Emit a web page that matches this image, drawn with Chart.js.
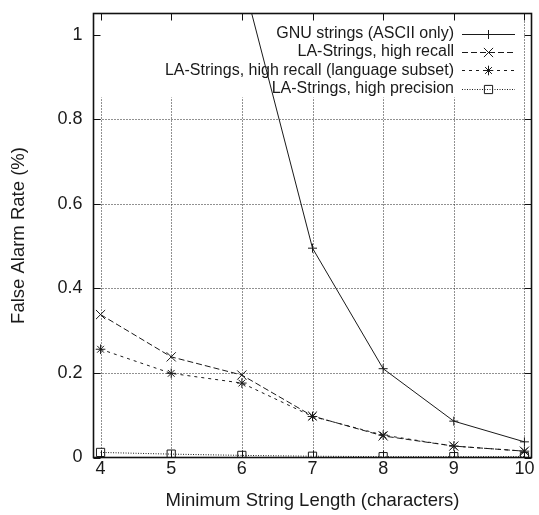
<!DOCTYPE html>
<html><head><meta charset="utf-8">
<script src="https://cdn.jsdelivr.net/npm/chart.js@4/dist/chart.umd.min.js"></script>
<style>html,body{margin:0;padding:0;background:#fff}#wrap{width:539px;height:515px}</style>
</head><body><div id="wrap"><canvas id="c" width="539" height="515"></canvas></div>
<script>
// ---- data ----
const minStringLength = [4, 5, 6, 7, 8, 9, 10];
const gnuStringsAscii = [null, null, 1.14, 0.495, 0.21, 0.086, 0.037];
const laHighRecall = [0.338, 0.238, 0.195, 0.098, 0.051, 0.027, 0.015];
const laHighRecallSubset = [0.256, 0.199, 0.176, 0.097, 0.053, 0.027, 0.015];
const laHighPrecision = [0.012, 0.008, 0.005, 0.003, 0.002, 0.002, 0.002];
const seriesLabels = [
  'GNU strings (ASCII only)',
  'LA-Strings, high recall',
  'LA-Strings, high recall (language subset)',
  'LA-Strings, high precision'
];
const xTickValues = [4, 5, 6, 7, 8, 9, 10];
const yTickValues = [0, 0.2, 0.4, 0.6, 0.8, 1];
const xAxisTitle = 'Minimum String Length (characters)';
const yAxisTitle = 'False Alarm Rate (%)';
const keyBottomValue = 0.852; // grid lines stop below the key area

const FONT = '"Liberation Sans", Arial, Helvetica, sans-serif';
const INK = '#1a1a1a';

function pts(ys) { return minStringLength.map((x, i) => ({x: x, y: ys[i]})); }

const styles = [
  {dash: [], pointStyle: 'cross', radius: 4.5},
  {dash: [6, 3], pointStyle: 'crossRot', radius: 6.5},
  {dash: [3, 4], pointStyle: 'star', radius: 4.8},
  {dash: [1, 1.5], pointStyle: 'rect', radius: 5.8}
];
const seriesData = [gnuStringsAscii, laHighRecall, laHighRecallSubset, laHighPrecision];

const datasets = seriesData.map((d, i) => ({
  label: seriesLabels[i],
  data: pts(d),
  borderColor: INK,
  backgroundColor: 'rgba(0,0,0,0)',
  borderWidth: 1,
  borderDash: styles[i].dash,
  pointStyle: styles[i].pointStyle,
  pointRadius: styles[i].radius,
  pointBorderWidth: 1,
  pointBorderColor: INK,
  pointBackgroundColor: 'rgba(0,0,0,0)',
  tension: 0,
  spanGaps: false
}));

const framePlugin = {
  id: 'frame',
  beforeDatasetsDraw(chart) {
    const {ctx, chartArea: a, scales: {x, y}} = chart;
    ctx.save();
    ctx.strokeStyle = '#222';
    ctx.lineWidth = 1;
    ctx.setLineDash([1, 2]);
    const yKey = y.getPixelForValue(keyBottomValue);
    xTickValues.forEach(v => {
      const px = Math.round(x.getPixelForValue(v)) + 0.5;
      const top = (v === xTickValues[xTickValues.length - 1]) ? a.top : yKey;
      ctx.beginPath(); ctx.moveTo(px, a.bottom); ctx.lineTo(px, top); ctx.stroke();
    });
    yTickValues.forEach(v => {
      if (v === 0 || v === 1) return;
      const py = Math.round(y.getPixelForValue(v)) + 0.5;
      ctx.beginPath(); ctx.moveTo(a.left, py); ctx.lineTo(a.right, py); ctx.stroke();
    });
    ctx.restore();
  },
  afterDatasetsDraw(chart) {
    const {ctx, chartArea: a, scales: {x, y}} = chart;
    ctx.save();
    ctx.strokeStyle = '#111';
    ctx.setLineDash([]);
    ctx.lineWidth = 1;
    const T = 7;
    xTickValues.forEach(v => {
      const px = Math.round(x.getPixelForValue(v)) + 0.5;
      ctx.beginPath();
      ctx.moveTo(px, a.bottom); ctx.lineTo(px, a.bottom - T);
      ctx.moveTo(px, a.top); ctx.lineTo(px, a.top + T);
      ctx.stroke();
    });
    yTickValues.forEach(v => {
      const py = Math.round(y.getPixelForValue(v)) + 0.5;
      ctx.beginPath();
      ctx.moveTo(a.left, py); ctx.lineTo(a.left + T, py);
      ctx.moveTo(a.right, py); ctx.lineTo(a.right - T, py);
      ctx.stroke();
    });
    ctx.lineWidth = 1.6;
    ctx.strokeRect(a.left, a.top, a.right - a.left, a.bottom - a.top);
    ctx.restore();
  },
  afterDraw(chart) {
    const {ctx} = chart;
    ctx.save();
    ctx.font = '16px ' + FONT;
    ctx.textAlign = 'right';
    ctx.textBaseline = 'middle';
    ctx.fillStyle = INK;
    const textRight = 454, s0 = 462, s1 = 515, rowY0 = 33.5, rowH = 18.4;
    chart.data.datasets.forEach((ds, i) => {
      const yy = rowY0 + i * rowH;
      ctx.fillStyle = INK;
      ctx.fillText(ds.label, textRight, yy);
      ctx.strokeStyle = INK;
      ctx.lineWidth = 1;
      ctx.setLineDash(ds.borderDash);
      ctx.beginPath(); ctx.moveTo(s0, Math.round(yy) + 0.5); ctx.lineTo(s1, Math.round(yy) + 0.5); ctx.stroke();
      ctx.setLineDash([]);
      ctx.fillStyle = 'rgba(0,0,0,0)';
      Chart.helpers.drawPoint(ctx, {pointStyle: ds.pointStyle, radius: ds.pointRadius, borderWidth: 1, rotation: 0}, (s0 + s1) / 2, Math.round(yy) + 0.5);
    });
    ctx.restore();
  }
};

new Chart(document.getElementById('c'), {
  type: 'line',
  data: {datasets: datasets},
  plugins: [framePlugin],
  options: {
    responsive: false,
    animation: false,
    devicePixelRatio: 1,
    layout: {padding: {top: 13.5, right: 1.5, left: 0, bottom: 0}},
    plugins: {legend: {display: false}, tooltip: {enabled: false}},
    scales: {
      x: {
        type: 'linear', min: 3.9, max: 10.1,
        afterBuildTicks: s => { s.ticks = xTickValues.map(v => ({value: v})); },
        afterFit: s => { s.height = 57.5; s.paddingLeft = 0; s.paddingRight = 0; },
        grid: {display: false, drawTicks: false},
        border: {display: false},
        ticks: {padding: 1, color: INK, font: {family: FONT, size: 18}, maxRotation: 0, autoSkip: false,
                callback: v => String(v)},
        title: {display: true, text: xAxisTitle, color: INK, font: {family: FONT, size: 18.5},
                padding: {top: 0, bottom: 3}}
      },
      y: {
        type: 'linear', min: 0, max: 1.05,
        afterBuildTicks: s => { s.ticks = yTickValues.map(v => ({value: v})); },
        afterFit: s => { s.width = 93.5; s.paddingTop = 0; s.paddingBottom = 0; },
        grid: {display: false, drawTicks: false},
        border: {display: false},
        ticks: {padding: 11, color: INK, font: {family: FONT, size: 18}, autoSkip: false,
                callback: v => String(v)},
        title: {display: true, text: yAxisTitle, color: INK, font: {family: FONT, size: 18.5},
                padding: {top: 8, bottom: 0}}
      }
    }
  }
});
</script>
</body></html>
